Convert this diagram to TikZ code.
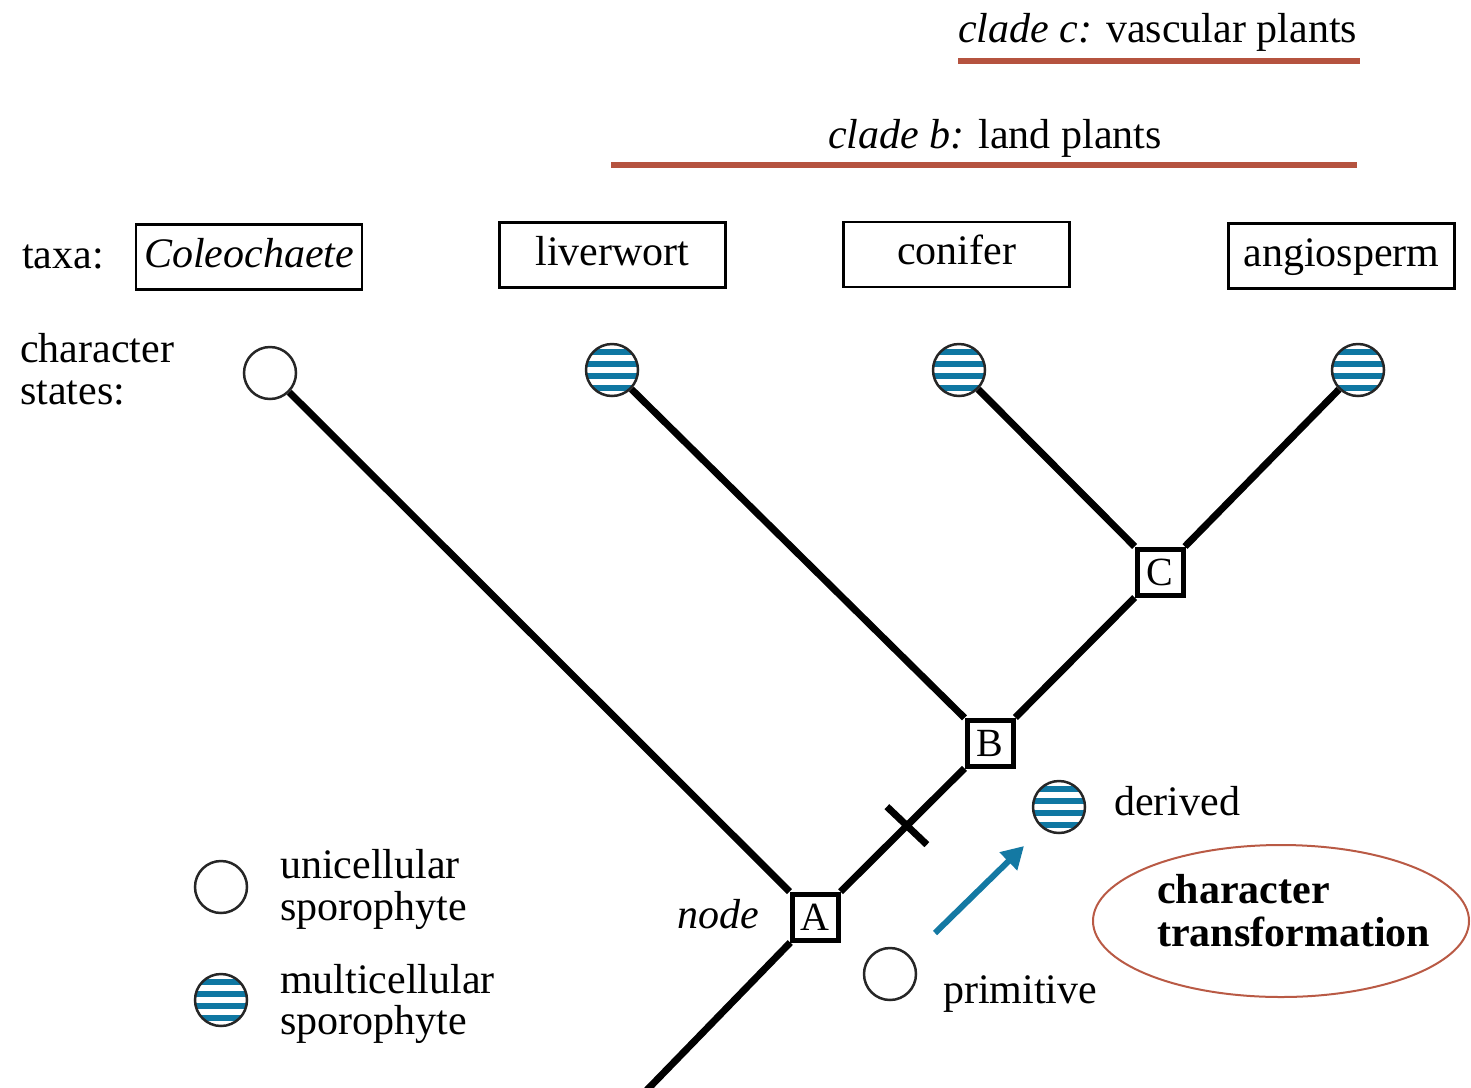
\documentclass[tikz,border=0pt]{standalone}
\usepackage{fontspec}
\setmainfont{Liberation Serif}
\usetikzlibrary{arrows.meta,calc,shapes.geometric}
\definecolor{cladeline}{HTML}{B5533F}
\definecolor{stripeblue}{HTML}{0F77A2}
\definecolor{arrowblue}{HTML}{1479A3}
\definecolor{ovalred}{HTML}{B95A45}

\tikzset{
  lbl/.style={font=\fontsize{42}{42}\selectfont, inner sep=0pt, anchor=base west},
  taxon/.style={draw, line width=2.5pt, minimum width=226pt, minimum height=65pt,
    font=\fontsize{42}{42}\selectfont, inner sep=0pt, text height=29pt, text depth=9pt},
  uni/.style={circle, draw=black!85, line width=2.5pt, fill=white,
    minimum size=52pt, inner sep=0pt},
  multi/.style={uni, path picture={
    \begin{scope}[shift={(path picture bounding box.center)}, rotate=#1]
      \foreach \d in {-18,-6,6,18}{
        \fill[stripeblue] (-40,\d-2.6) rectangle (40,\d+2.6);}
    \end{scope}}},
  multi/.default=0,
  branch/.style={line width=7pt},
  cladebar/.style={line width=6.5pt, cladeline},
  hub/.style={draw, fill=white, line width=5pt, minimum size=46pt, inner sep=0pt,
    font=\fontsize{40}{40}\selectfont},
}

\begin{document}
\begin{tikzpicture}[x=1pt, y=-1pt]
  \clip (0,0) rectangle (1471,1087);
  \useasboundingbox (0,0) rectangle (1471,1087);

  % clade bars
  \node[lbl] (cladec) at (958,42) {\textit{clade c:} vascular plants};
  \coordinate (c1) at (958,61);  \coordinate (c2) at (1360,61);
  \draw[cladebar] (c1) -- (c2);
  \node[lbl] (cladeb) at (828,148) {\textit{clade b:} land plants};
  \coordinate (b1) at (611,165); \coordinate (b2) at (1357,165);
  \draw[cladebar] (b1) -- (b2);

  % taxa
  \node[lbl] (taxa) at (22,268) {taxa:};
  \node[taxon] (tcol) at (249,257) {\textit{Coleochaete}};
  \node[taxon] (tliv) at (612.5,255) {liverwort};
  \node[taxon] (tcon) at (956.5,254.5) {conifer};
  \node[taxon] (tang) at (1341.5,256) {angiosperm};

  % character states
  \node[lbl] (cs1) at (20,362) {character};
  \node[lbl] (cs2) at (20,404) {states:};
  \node[uni] (scol) at (270,373) {};
  \node[multi=8] (sliv) at (612,370) {};
  \node[multi=8] (scon) at (959,370) {};
  \node[multi=8] (sang) at (1358,370) {};

  % tree
  \node[hub] (A) at (815,917) {A};
  \node[hub] (B) at (990,743) {B};
  \node[hub] (C) at (1160,572) {C};
  \coordinate (root) at (645,1092);
  \draw[branch] (scol) -- (A);
  \draw[branch] (sliv) -- (B);
  \draw[branch] (scon) -- (C);
  \draw[branch] (sang) -- (C);
  \draw[branch] (C) -- (B);
  \draw[branch] (B) -- (A);
  \draw[branch] (A) -- (root);
  \coordinate (tick) at ($(A)!0.525!(B)$);
  \draw[branch] ([shift={(-20,-19)}]tick) -- ([shift={(20,19)}]tick);
  \node[lbl, font=\fontsize{42}{42}\selectfont\itshape] (nodelbl) at (677,928) {node};

  % legend
  \node[uni] (luni) at (221,887) {};
  \node[lbl] (lu1) at (280,878) {unicellular};
  \node[lbl] (lu2) at (280,920) {sporophyte};
  \node[multi=8] (lmul) at (221,1000) {};
  \node[lbl] (lm1) at (280,993) {multicellular};
  \node[lbl] (lm2) at (280,1034) {sporophyte};

  % character transformation
  \node[multi] (der) at (1059,807) {};
  \node[lbl] (derlbl) at (1114,815) {derived};
  \node[uni] (pri) at (890,974) {};
  \node[lbl] (prilbl) at (943,1003) {primitive};
  \coordinate (tail) at (935,933);
  \coordinate (tip) at (1024,846);
  \draw[arrowblue, line width=6pt, -{Triangle[length=22pt,width=24pt]}] (tail) -- (tip);
  \node[ellipse, draw=ovalred, line width=2pt, minimum width=376pt, minimum height=152pt]
    (trans) at (1281,921) {};
  \node[lbl, font=\fontsize{42}{42}\selectfont\bfseries] (tr1) at (1157,903) {character};
  \node[lbl, font=\fontsize{42}{42}\selectfont\bfseries] (tr2) at (1157,946) {transformation};
\end{tikzpicture}
\end{document}
